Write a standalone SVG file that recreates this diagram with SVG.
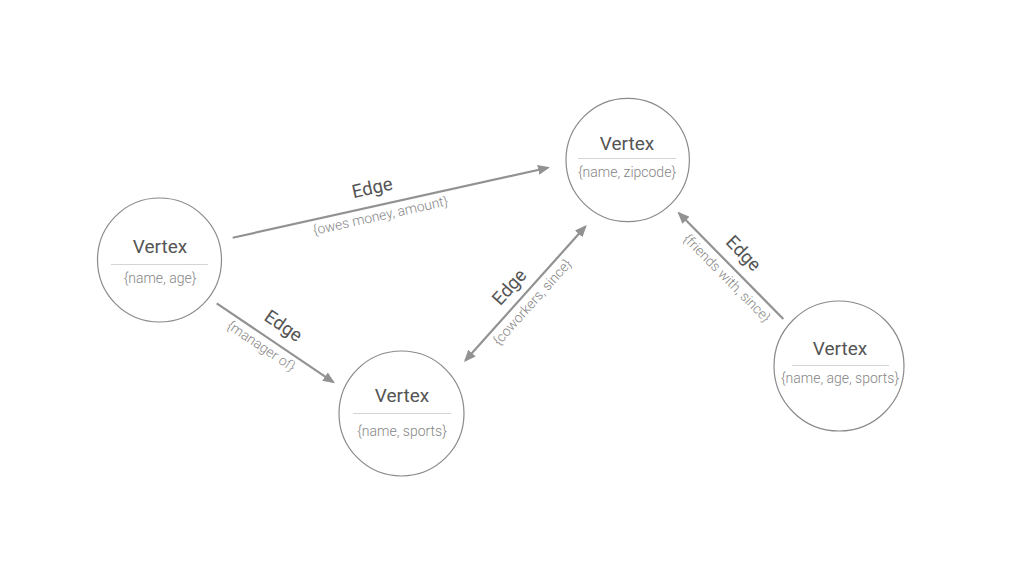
<svg xmlns="http://www.w3.org/2000/svg" width="1024" height="576" viewBox="0 0 1024 576">
<defs>
<style>
.circ{fill:#fff;stroke:#8a8a8a;stroke-width:1.2}
.div{stroke:#d4d4d4;stroke-width:1}
.vt{font-family:Roboto,"Liberation Sans",sans-serif;font-weight:400;font-size:19px;fill:#555;text-anchor:middle}
.vs{font-family:Roboto,"Liberation Sans",sans-serif;font-weight:300;font-size:14px;fill:#858585;text-anchor:middle}
.edge{stroke:#929292;stroke-width:2.2;fill:none}
.et{font-family:Roboto,"Liberation Sans",sans-serif;font-weight:400;font-size:18.5px;fill:#555;text-anchor:middle}
.es{font-family:Roboto,"Liberation Sans",sans-serif;font-weight:300;font-size:13.8px;fill:#858585;text-anchor:middle}
</style>
<marker id="arr" viewBox="0 0 12 10" refX="10" refY="5" markerWidth="12" markerHeight="10" markerUnits="userSpaceOnUse" orient="auto-start-reverse">
<path d="M0,0 L12,5 L0,10 z" fill="#929292"/>
</marker>
</defs>
<rect width="1024" height="576" fill="#fff"/>
<g id="connectors">
<line class="edge" x1="232.7" y1="237.7" x2="548" y2="167.7" marker-end="url(#arr)"/>
<line class="edge" x1="216.7" y1="303.3" x2="333.3" y2="382.2" marker-end="url(#arr)"/>
<line class="edge" x1="465.3" y1="360.5" x2="585.4" y2="226.5" marker-start="url(#arr)" marker-end="url(#arr)"/>
<line class="edge" x1="783.3" y1="319" x2="678.9" y2="213.1" marker-end="url(#arr)"/>
</g>
<g id="edge-labels">
<g transform="translate(376.2,205.9) rotate(-12.5)">
<text class="et" x="0" y="-12.5">Edge</text>
<text class="es" x="2" y="15">{owes money, amount}</text>
</g>
<g transform="translate(270.5,339.7) rotate(34.07)">
<text class="et" x="3" y="-12.5">Edge</text>
<text class="es" x="-4" y="15">{manager of}</text>
</g>
<g transform="translate(522.7,296.4) rotate(-48.2)">
<text class="et" x="-2" y="-10">Edge</text>
<text class="es" x="2" y="15.5">{coworkers, since}</text>
</g>
<g transform="translate(733,267.9) rotate(45.4)">
<text class="et" x="-3" y="-11.5">Edge</text>
<text class="es" x="3" y="16">{friends with, since}</text>
</g>
</g>
<g id="vertex-age">
<circle class="circ" cx="159.5" cy="260" r="62"/>
<text class="vt" x="160" y="253">Vertex</text>
<line class="div" x1="111" y1="264.5" x2="208" y2="264.5"/>
<text class="vs" x="160" y="283.3">{name, age}</text>
</g>
<g id="vertex-zipcode">
<circle class="circ" cx="627.7" cy="160" r="61.7"/>
<text class="vt" x="627" y="150">Vertex</text>
<line class="div" x1="578" y1="158.5" x2="676" y2="158.5"/>
<text class="vs" x="627" y="177.3">{name, zipcode}</text>
</g>
<g id="vertex-sports">
<circle class="circ" cx="401.5" cy="413.5" r="62.5"/>
<text class="vt" x="402" y="402">Vertex</text>
<line class="div" x1="353" y1="413.5" x2="451" y2="413.5"/>
<text class="vs" x="402" y="435.7">{name, sports}</text>
</g>
<g id="vertex-age-sports">
<circle class="circ" cx="839" cy="366" r="65"/>
<text class="vt" x="840" y="355">Vertex</text>
<line class="div" x1="792" y1="365.5" x2="889" y2="365.5"/>
<text class="vs" x="840" y="383">{name, age, sports}</text>
</g>
</svg>
